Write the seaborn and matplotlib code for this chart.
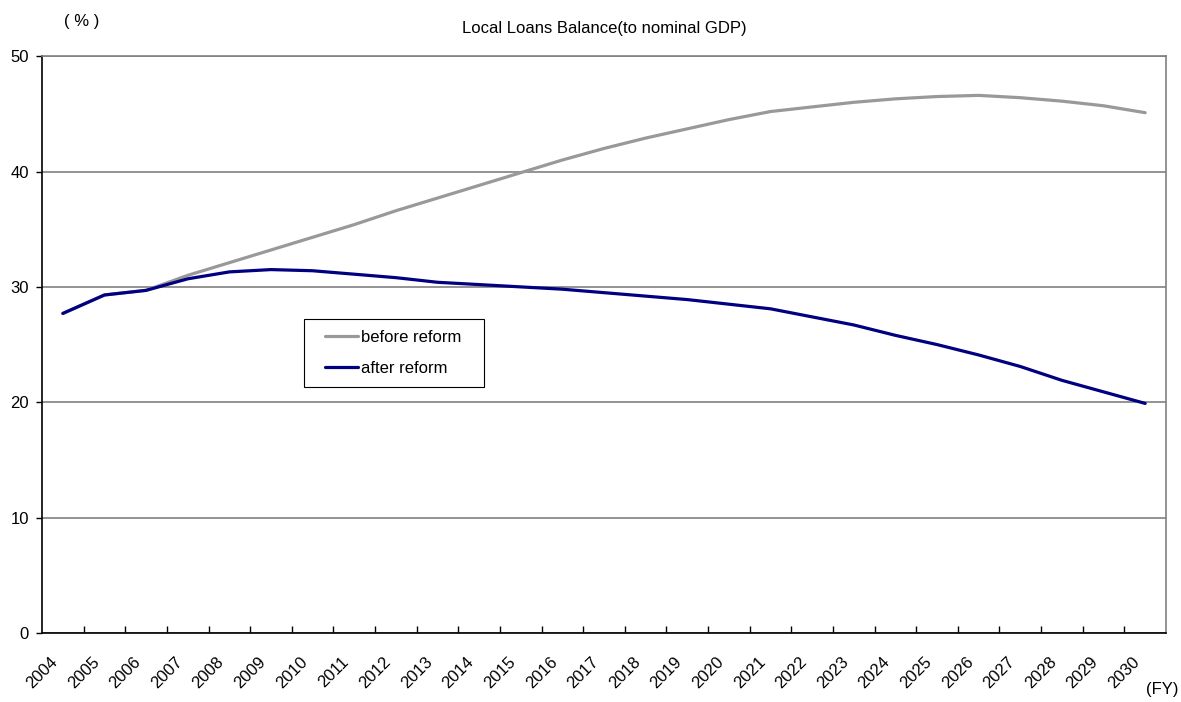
import numpy as np
import pandas as pd
import matplotlib
matplotlib.use("Agg")
import matplotlib.pyplot as plt
import matplotlib.transforms as mtrans
from matplotlib.patches import Rectangle
import seaborn as sb

years = [str(y) for y in range(2004, 2031)]

before_reform = [27.7, 29.3, 29.7, 31.0, 32.1, 33.2, 34.3, 35.4, 36.6, 37.7,
                 38.8, 39.9, 41.0, 42.0, 42.9, 43.7, 44.5, 45.2, 45.6, 46.0,
                 46.3, 46.5, 46.6, 46.4, 46.1, 45.7, 45.1]
after_reform = [27.7, 29.3, 29.7, 30.7, 31.3, 31.5, 31.4, 31.1, 30.8, 30.4,
                30.2, 30.0, 29.8, 29.5, 29.2, 28.9, 28.5, 28.1, 27.4, 26.7,
                25.8, 25.0, 24.1, 23.1, 21.9, 20.9, 19.9]

df = pd.DataFrame({
    "year": years * 2,
    "value": before_reform + after_reform,
    "series": ["before reform"] * len(years) + ["after reform"] * len(years),
})

sb.set_style("white")
plt.rcParams["font.family"] = ["Liberation Sans", "DejaVu Sans"]
plt.rcParams["text.color"] = "black"
plt.rcParams["xtick.color"] = "black"
plt.rcParams["ytick.color"] = "black"

fig = plt.figure(figsize=(11.81, 7.02), dpi=100)
ax = fig.add_axes([0.0356, 0.0983, 0.9517, 0.8217])

sb.lineplot(data=df, x="year", y="value", hue="series", ax=ax,
            palette={"before reform": "#999999", "after reform": "#000080"},
            linewidth=2.3, sort=False)

ax.set_xlim(-0.5, len(years) - 0.5)
ax.set_ylim(0, 50)
ax.set_yticks([0, 10, 20, 30, 40, 50])
ax.yaxis.grid(True, color="#808080", linewidth=1.2)
ax.set_axisbelow(True)

# x: labels at category centres, tick marks at boundaries
ax.set_xticks(range(len(years)))
ax.set_xticklabels(years, rotation=45, ha="right", rotation_mode="anchor")
ax.set_xticks(np.arange(0.5, len(years) - 1, 1.0), minor=True)
ax.tick_params(axis="x", which="major", bottom=True, length=0, labelsize=12, pad=15)
ax.tick_params(axis="x", which="minor", bottom=True, direction="in", length=5, width=1, color="black")
ax.tick_params(axis="y", left=True, direction="out", length=4, width=1, color="black", labelsize=12, pad=5.5)

shift = mtrans.ScaledTranslation(-0.13, 0, fig.dpi_scale_trans)
for lab in ax.get_xticklabels():
    lab.set_transform(lab.get_transform() + shift)

ax.set_xlabel("")
ax.set_ylabel("")
for s in ["left", "bottom"]:
    ax.spines[s].set_color("black")
    ax.spines[s].set_linewidth(1.2)
ax.spines["right"].set_color("#808080")
ax.spines["right"].set_linewidth(1.2)
ax.spines["top"].set_color("#808080")
ax.spines["top"].set_linewidth(1.2)

# legend box drawn separately so the padding matches the original
ax.add_patch(Rectangle((0.2331, 0.4263), 0.1601, 0.1179, transform=ax.transAxes,
                       facecolor="white", edgecolor="black", linewidth=0.8, zorder=4))
leg = ax.legend(loc="center left", bbox_to_anchor=(0.2515, 0.4853), fontsize=12,
                frameon=False, handlelength=2.0, handletextpad=0.15, borderpad=0,
                labelspacing=0.95, borderaxespad=0)
leg.set_zorder(5)

fig.text(0.512, 0.959, "Local Loans Balance(to nominal GDP)", ha="center", va="center", fontsize=12)
fig.text(0.069, 0.970, "( % )", ha="center", va="center", fontsize=12)
fig.text(0.998, 0.018, "(FY)", ha="right", va="center", fontsize=12)

fig.savefig("out.png", dpi=100)
